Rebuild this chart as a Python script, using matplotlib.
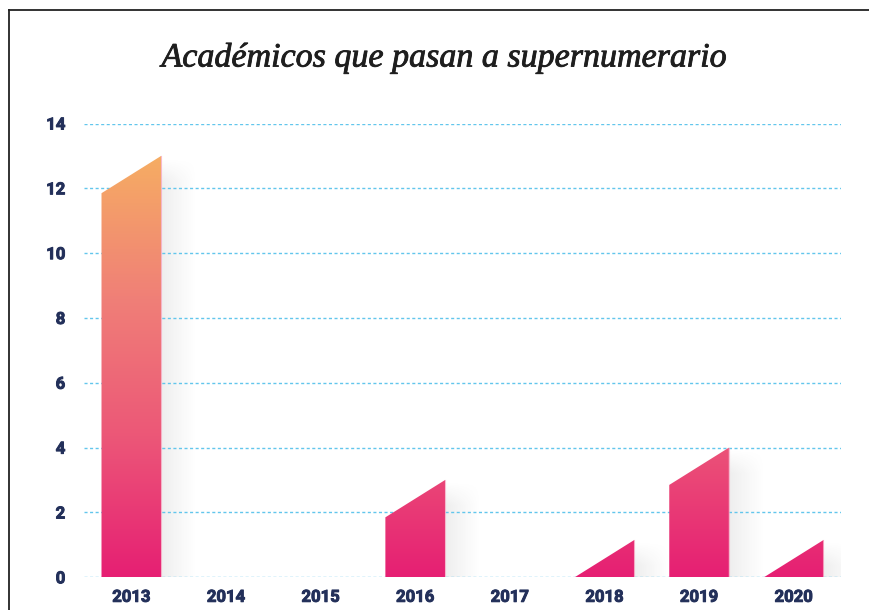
import matplotlib
matplotlib.use("Agg")
import matplotlib.pyplot as plt
import numpy as np
from matplotlib.patches import Polygon
from matplotlib.colors import LinearSegmentedColormap
import matplotlib.patheffects as pe

years = ["2013", "2014", "2015", "2016", "2017", "2018", "2019", "2020"]
values = [13, 0, 0, 3, 0, 1, 4, 1]
yticks = [0, 2, 4, 6, 8, 10, 12, 14]
title = "Académicos que pasan a supernumerario"

SLANT = 1.15
BAR_W = 0.63

fig = plt.figure(figsize=(8.69, 6.10), dpi=100)
ax = fig.add_axes([84/869, 1-577.3/610, (841-84)/869, (577.3-123.5)/610])
ax.set_xlim(-0.5, len(years)-0.5)
ax.set_ylim(0, 14)

cmap = LinearSegmentedColormap.from_list("g", ["#e61f73", "#ec5778", "#f08077", "#f6ad63"])
grad = np.linspace(0, 1, 256).reshape(-1, 1)

for i, v in enumerate(values):
    if v <= 0:
        continue
    right_top = max(v, SLANT)
    left_top = max(right_top - SLANT, 0)
    x0, x1 = i - BAR_W/2, i + BAR_W/2
    # soft shadow to the right
    ny, nx = 200, 64
    ys = np.linspace(0, right_top, ny).reshape(-1, 1)
    xs = np.linspace(0, 1, nx).reshape(1, -1)
    vert = np.clip((right_top - 0.1 - ys) / 0.7, 0, 1)
    horiz = np.clip(1 - xs, 0, 1) ** 1.1
    sh = np.zeros((ny, nx, 4))
    sh[..., :3] = 0.55
    sh[..., 3] = 0.15 * vert * horiz
    ax.imshow(sh, extent=(x1, x1 + 0.38, 0, right_top), origin="lower", aspect="auto",
              zorder=1.5, interpolation="bilinear")
    poly = Polygon([(x0, 0), (x0, left_top), (x1, right_top), (x1, 0)],
                   closed=True, facecolor="none", edgecolor="none", transform=ax.transData)
    ax.add_patch(poly)
    im = ax.imshow(grad, extent=(-0.5, len(years)-0.5, 0, 13), origin="lower",
                   cmap=cmap, aspect="auto", zorder=3, interpolation="bilinear")
    im.set_clip_path(poly)
    ax.plot([x1, x1], [0, right_top], color="#f7a3bf", lw=0.8, zorder=3.5, alpha=0.7)

ax.set_xlim(-0.5, len(years)-0.5)
ax.set_ylim(0, 14)

for y in yticks:
    ax.axhline(y, color="#62c6ec", lw=1.0, ls=(0, (2.2, 1.8)), zorder=2)

for s in ax.spines.values():
    s.set_visible(False)
ax.set_yticks(yticks)
ax.set_xticks(range(len(years)))
ax.set_xticklabels(years)
ax.tick_params(length=0)
ax.tick_params(axis="y", pad=13.5)
ax.tick_params(axis="x", pad=9)
for lab in ax.get_xticklabels() + ax.get_yticklabels():
    lab.set_fontfamily("Roboto")
    lab.set_fontweight("bold")
    lab.set_fontsize(12)
    lab.set_color("#23305a")
    lab.set_path_effects([pe.withStroke(linewidth=0.7, foreground="#23305a")])

fig.text(444/869, 1-58/610, title, ha="center", va="center",
         fontfamily="Liberation Serif", fontstyle="italic", fontsize=24.5, color="#1e1e1e",
         path_effects=[pe.withStroke(linewidth=0.6, foreground="#1e1e1e")])

# frame lines
fig.add_artist(plt.Line2D([9/869, 1], [1-10/610, 1-10/610], color="#222222", lw=1.3,
                          transform=fig.transFigure))
fig.add_artist(plt.Line2D([9/869, 9/869], [0, 1-10/610], color="#222222", lw=1.3,
                          transform=fig.transFigure))

fig.savefig("out.png", dpi=100)
